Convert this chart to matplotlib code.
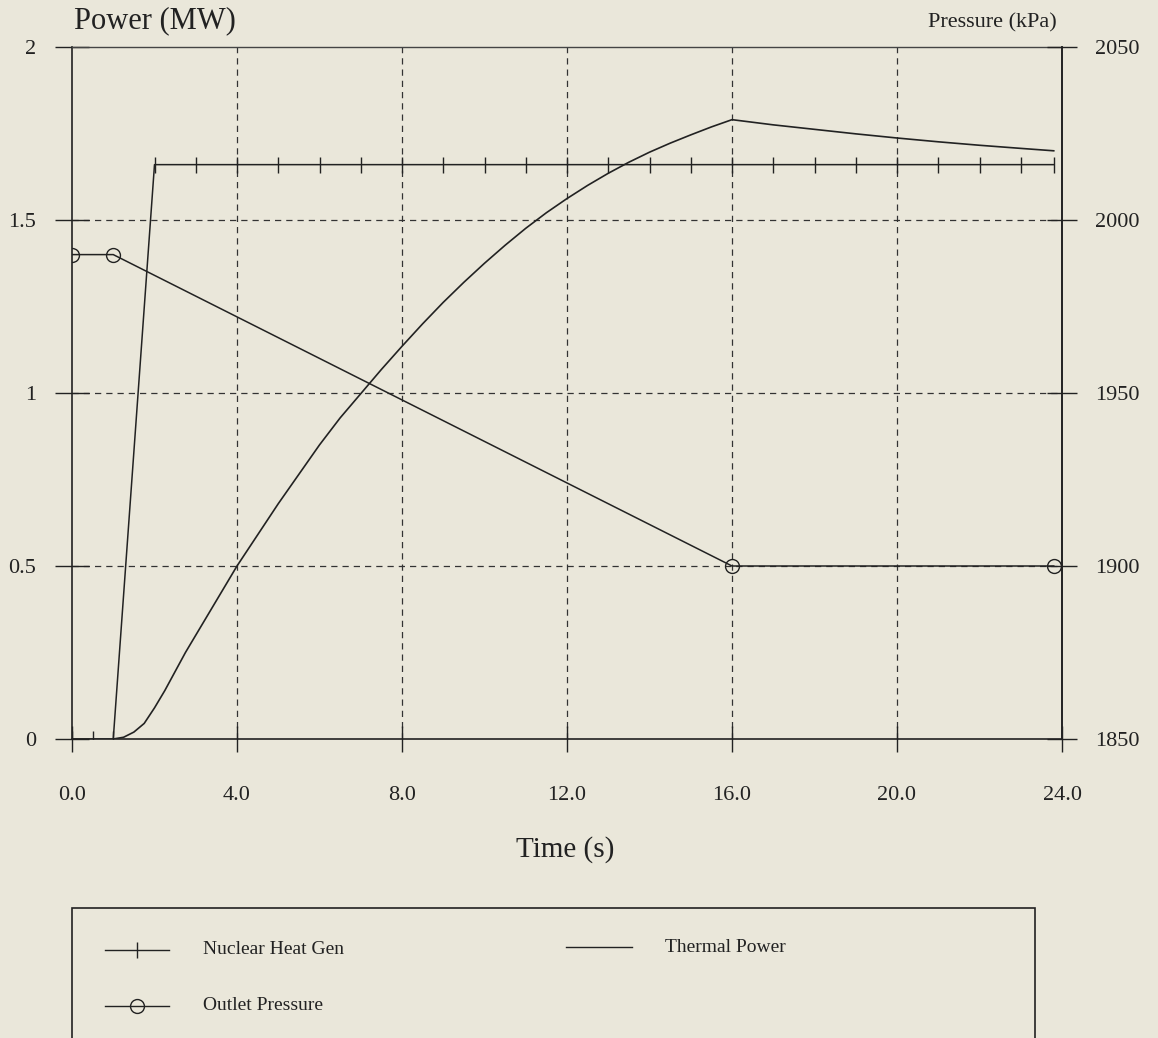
import matplotlib.pyplot as plt
from matplotlib.lines import Line2D
from matplotlib.patches import Rectangle

# data
t_nuc = [0, 0.5, 1, 2, 3, 4, 5, 6, 7, 8, 9, 10, 11, 12, 13, 14, 15, 16, 17, 18, 19, 20, 21, 22, 23, 23.8]
p_nuc = [0, 0, 0, 1.66, 1.66, 1.66, 1.66, 1.66, 1.66, 1.66, 1.66, 1.66, 1.66, 1.66, 1.66, 1.66,
         1.66, 1.66, 1.66, 1.66, 1.66, 1.66, 1.66, 1.66, 1.66, 1.66]

t_th = [1, 1.25, 1.5, 1.75, 2, 2.25, 2.5, 2.75, 3, 3.5, 4, 4.5, 5, 5.5, 6, 6.5, 7, 7.5, 8,
        8.5, 9, 9.5, 10, 10.5, 11, 11.5, 12, 12.5, 13, 13.5, 14, 14.5, 15, 15.5, 16,
        17, 18, 19, 20, 21, 22, 23, 23.8]
p_th = [0, 0.005, 0.02, 0.045, 0.09, 0.14, 0.195, 0.25, 0.30, 0.40, 0.50, 0.59, 0.68, 0.765,
        0.85, 0.928, 0.998, 1.068, 1.135, 1.20, 1.262, 1.32, 1.375, 1.427, 1.476, 1.521, 1.562,
        1.60, 1.635, 1.667, 1.696, 1.722, 1.746, 1.769, 1.79,
        1.775, 1.762, 1.749, 1.737, 1.726, 1.716, 1.707, 1.70]

t_out = [0, 1, 16, 23.8]
p_out = [1990, 1990, 1900, 1900]

x_ticks = [0, 4, 8, 12, 16, 20, 24]
x_labels = ["0.0", "4.0", "8.0", "12.0", "16.0", "20.0", "24.0"]
y_ticks = [0, 0.5, 1, 1.5, 2]
y_labels = ["0", "0.5", "1", "1.5", "2"]
y2_ticks = [1850, 1900, 1950, 2000, 2050]

plt.rcParams['font.family'] = ['Liberation Serif', 'DejaVu Serif']
ink = '#222222'
W, H = 1158, 1038

fig = plt.figure(figsize=(W / 100, H / 100), dpi=100)
fig.patch.set_facecolor('#EAE7DA')
ax = fig.add_axes([72 / W, 1 - 739 / H, 990 / W, 692 / H])
ax.set_facecolor('none')
ax.set_axisbelow(True)

ax.plot(t_nuc, p_nuc, color=ink, lw=1.1, marker='|', ms=12, mew=1.0, zorder=3)
ax.plot(t_th, p_th, color=ink, lw=1.2, zorder=3)

ax.set_xlim(0, 24)
ax.set_ylim(0, 2)
ax.set_xticks(x_ticks)
ax.set_xticklabels(x_labels)
ax.set_yticks(y_ticks)
ax.set_yticklabels(y_labels)
ax.tick_params(axis='x', direction='inout', length=19, width=1, pad=24, labelsize=16, colors=ink)
ax.tick_params(axis='y', direction='inout', length=24, width=1, pad=14, labelsize=16, colors=ink)
ax.grid(True, linestyle=(0, (5, 4)), color='#333333', lw=0.9)
# grid lines on the frame edges would hide the solid spines
for gl in [ax.get_xgridlines()[0], ax.get_xgridlines()[-1],
           ax.get_ygridlines()[0], ax.get_ygridlines()[-1]]:
    gl.set_visible(False)
for side in ['left', 'bottom', 'right']:
    ax.spines[side].set_color(ink)
    ax.spines[side].set_linewidth(1.2)
ax.spines['top'].set_color('#444444')
ax.spines['top'].set_linewidth(1.0)

ax2 = ax.twinx()
ax2.plot(t_out, p_out, color=ink, lw=1.1, marker='o', ms=10, mfc='none', mew=1.0, zorder=3)
ax2.set_ylim(1850, 2050)
ax2.set_yticks(y2_ticks)
ax2.tick_params(axis='y', direction='inout', length=22, width=1, pad=13, labelsize=16, colors=ink)
for side in ['left', 'bottom', 'top']:
    ax2.spines[side].set_visible(False)
ax2.spines['right'].set_color(ink)
ax2.spines['right'].set_linewidth(1.2)

# axis titles
fig.text(155 / W, 1 - 21 / H, "Power (MW)", ha='center', va='center', fontsize=22, color=ink)
fig.text(992 / W, 1 - 23 / H, "Pressure (kPa)", ha='center', va='center', fontsize=16, color=ink)
fig.text(565 / W, 1 - 850 / H, "Time (s)", ha='center', va='center', fontsize=21, color=ink)

# legend box (runs off the bottom of the page)
fig.patches.append(Rectangle((72 / W, -0.01), (1035 - 72) / W, (1 - 908 / H) + 0.01,
                             transform=fig.transFigure, fill=False, ec=ink, lw=1.2))


def legend_entry(x0, x1, y, label, tx, **kw):
    yy = 1 - y / H
    fig.lines.append(Line2D([x0 / W, x1 / W], [yy, yy], transform=fig.transFigure,
                            color=ink, lw=1.0))
    if 'marker' in kw:
        fig.lines.append(Line2D([(x0 + x1) / 2 / W], [yy], transform=fig.transFigure,
                                color=ink, ls='none', **kw))
    fig.text(tx / W, yy, label, ha='left', va='center', fontsize=14, color=ink)


legend_entry(105, 169, 950, "Nuclear Heat Gen", 203, marker='|', ms=12, mew=1.0)
legend_entry(105, 169, 1006, "Outlet Pressure", 203, marker='o', ms=10, mfc='none', mew=1.0)
legend_entry(566, 632, 947, "Thermal Power", 665)

fig.savefig("out.png", dpi=100, facecolor=fig.get_facecolor())
